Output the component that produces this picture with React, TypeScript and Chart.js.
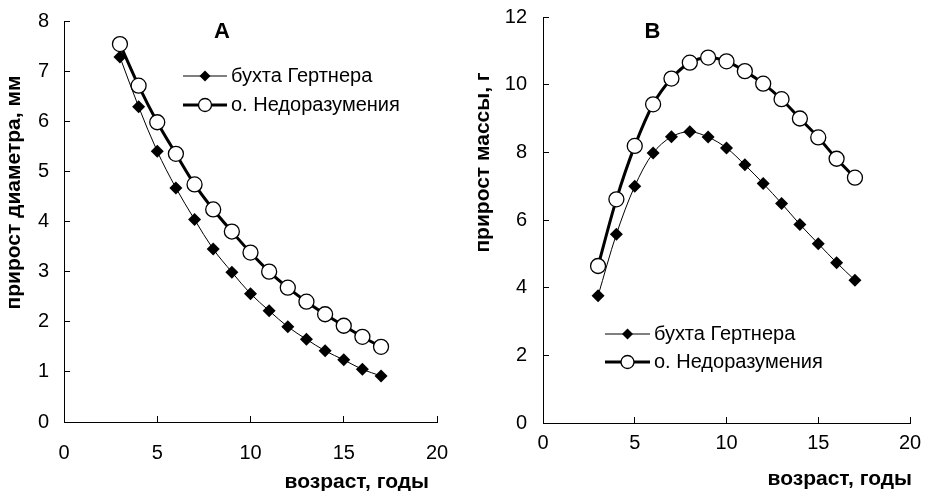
import React, { useEffect, useRef } from 'react';
import { Chart, registerables } from 'chart.js';

Chart.register(...registerables);

// ---------- data ----------
const ages = [3, 4, 5, 6, 7, 8, 9, 10, 11, 12, 13, 14, 15, 16, 17];
const seriesNames = ['бухта Гертнера', 'о. Недоразумения'];

const diameterGertner = [7.28, 6.29, 5.4, 4.67, 4.04, 3.45, 2.99, 2.56, 2.22, 1.9, 1.65, 1.42, 1.24, 1.05, 0.92];
const diameterNedoraz = [7.54, 6.71, 5.98, 5.35, 4.74, 4.24, 3.8, 3.38, 3.0, 2.68, 2.4, 2.15, 1.92, 1.7, 1.5];

const massGertner = [3.76, 5.58, 7.0, 7.98, 8.46, 8.61, 8.45, 8.13, 7.63, 7.08, 6.49, 5.87, 5.3, 4.74, 4.22];
const massNedoraz = [4.64, 6.61, 8.19, 9.42, 10.18, 10.65, 10.8, 10.69, 10.4, 10.03, 9.57, 9.0, 8.44, 7.81, 7.25];

const xTicks = [0, 5, 10, 15, 20];
const diameterTicks = [0, 1, 2, 3, 4, 5, 6, 7, 8];
const massTicks = [0, 2, 4, 6, 8, 10, 12];

const panelLetters = ['A', 'B'];
const yTitles = ['прирост диаметра, мм', 'прирост массы, г'];
const xTitle = 'возраст, годы';

// ---------- helpers ----------
const FONT = '"Liberation Sans", Arial, Helvetica, sans-serif';

const toPoints = (ys: number[]) => ages.map((x, i) => ({ x, y: ys[i] }));

const panelDecor = {
  id: 'panelDecor',
  afterDraw(chart: any, _args: any, opts: any) {
    const ctx = chart.ctx as CanvasRenderingContext2D;
    ctx.save();
    ctx.fillStyle = '#000';

    // panel letter
    ctx.font = `bold 22px ${FONT}`;
    ctx.textAlign = 'center';
    ctx.textBaseline = 'middle';
    ctx.fillText(opts.letter.text, opts.letter.x, opts.letter.y);

    // y title
    ctx.save();
    ctx.translate(opts.yTitle.x, opts.yTitle.y);
    ctx.rotate(-Math.PI / 2);
    ctx.font = `bold 21px ${FONT}`;
    ctx.textAlign = 'center';
    ctx.textBaseline = 'alphabetic';
    ctx.fillText(opts.yTitle.text, 0, 0);
    ctx.restore();

    // x title
    ctx.font = `bold 21px ${FONT}`;
    ctx.textAlign = 'right';
    ctx.textBaseline = 'alphabetic';
    ctx.fillText(opts.xTitle.text, opts.xTitle.right, opts.xTitle.y);

    // legend
    const lg = opts.legend;
    chart.data.datasets.forEach((ds: any, i: number) => {
      const y = lg.y + i * lg.gap;
      ctx.strokeStyle = ds.borderColor;
      ctx.lineWidth = ds.borderWidth;
      ctx.beginPath();
      ctx.moveTo(lg.x, y);
      ctx.lineTo(lg.x + lg.w, y);
      ctx.stroke();
      const cx = lg.x + lg.w / 2;
      if (ds.pointStyle === 'rectRot') {
        const r = 5.5;
        ctx.fillStyle = ds.pointBackgroundColor;
        ctx.beginPath();
        ctx.moveTo(cx - r, y);
        ctx.lineTo(cx, y - r);
        ctx.lineTo(cx + r, y);
        ctx.lineTo(cx, y + r);
        ctx.closePath();
        ctx.fill();
      } else {
        const r = 6.5;
        ctx.fillStyle = ds.pointBackgroundColor;
        ctx.strokeStyle = ds.pointBorderColor;
        ctx.lineWidth = ds.pointBorderWidth;
        ctx.beginPath();
        ctx.arc(cx, y, r, 0, Math.PI * 2);
        ctx.fill();
        ctx.stroke();
      }
      ctx.fillStyle = '#000';
      ctx.font = `20px ${FONT}`;
      ctx.textAlign = 'left';
      ctx.textBaseline = 'middle';
      ctx.fillText(ds.label, lg.x + lg.w + lg.textGap, y);
    });

    ctx.restore();
  },
};

type PanelProps = {
  left: number;
  series: number[][];
  yTicks: number[];
  yAxisWidth: number;
  xAxisHeight: number;
  xLabelPad: number;
  yLabelPad: number;
  padding: { top: number; right: number };
  decor: any;
};

const W = 463;
const H = 491;

const clearScalePadding = (scale: any) => {
  scale.paddingLeft = 0;
  scale.paddingRight = 0;
  scale.paddingTop = 0;
  scale.paddingBottom = 0;
};

function Panel(props: PanelProps) {
  const ref = useRef<HTMLCanvasElement | null>(null);

  useEffect(() => {
    if (!ref.current) return;
    const [g, n] = props.series;
    const chart = new Chart(ref.current, {
      type: 'line',
      data: {
        datasets: [
          {
            label: seriesNames[0],
            data: toPoints(g),
            borderColor: '#000',
            borderWidth: 1,
            pointStyle: 'rectRot',
            pointRadius: 6.5,
            pointBackgroundColor: '#000',
            pointBorderColor: '#000',
            pointBorderWidth: 0,
            tension: 0.33,
            fill: false,
            order: 1,
          } as any,
          {
            label: seriesNames[1],
            data: toPoints(n),
            borderColor: '#000',
            borderWidth: 3,
            pointStyle: 'circle',
            pointRadius: 7.5,
            pointBackgroundColor: '#fff',
            pointBorderColor: '#000',
            pointBorderWidth: 1.3,
            tension: 0.33,
            fill: false,
            order: 0,
          } as any,
        ],
      },
      options: {
        responsive: false,
        animation: false,
        devicePixelRatio: 1,
        clip: false as any,
        layout: { padding: { left: 0, top: props.padding.top, right: props.padding.right, bottom: 0 } },
        plugins: {
          legend: { display: false },
          tooltip: { enabled: false },
          panelDecor: props.decor,
        } as any,
        scales: {
          x: {
            type: 'linear',
            min: xTicks[0],
            max: xTicks[xTicks.length - 1],
            afterBuildTicks: (scale: any) => {
              scale.ticks = xTicks.map((v) => ({ value: v }));
            },
            afterFit: (scale: any) => {
              scale.height = props.xAxisHeight;
              clearScalePadding(scale);
            },
            ticks: {
              color: '#000',
              font: { family: FONT, size: 20 },
              padding: props.xLabelPad,
              maxRotation: 0,
            },
            grid: {
              drawOnChartArea: false,
              drawTicks: true,
              tickLength: -6,
              color: '#000',
              lineWidth: 1,
            },
            border: { display: true, color: '#000', width: 1 },
          },
          y: {
            type: 'linear',
            min: props.yTicks[0],
            max: props.yTicks[props.yTicks.length - 1],
            afterBuildTicks: (scale: any) => {
              scale.ticks = props.yTicks.map((v) => ({ value: v }));
            },
            afterFit: (scale: any) => {
              scale.width = props.yAxisWidth;
              clearScalePadding(scale);
            },
            ticks: {
              color: '#000',
              font: { family: FONT, size: 20 },
              padding: props.yLabelPad,
            },
            grid: {
              drawOnChartArea: false,
              drawTicks: true,
              tickLength: -6,
              color: '#000',
              lineWidth: 1,
            },
            border: { display: true, color: '#000', width: 1 },
          },
        },
      } as any,
      plugins: [panelDecor as any],
    });
    return () => chart.destroy();
  }, []);

  return (
    <canvas
      ref={ref}
      width={W}
      height={H}
      style={{ position: 'absolute', left: props.left, top: 0, width: W, height: H, display: 'block' }}
    />
  );
}

export default function App() {
  return (
    <div style={{ position: 'fixed', left: 0, top: 0, width: 926, height: 491, background: '#fff', overflow: 'hidden' }}>
      <Panel
        left={0}
        series={[diameterGertner, diameterNedoraz]}
        yTicks={diameterTicks}
        yAxisWidth={64}
        xAxisHeight={69}
        xLabelPad={25}
        yLabelPad={21}
        padding={{ top: 21, right: 26 }}
        decor={{
          letter: { text: panelLetters[0], x: 222, y: 32 },
          yTitle: { text: yTitles[0], x: 19.5, y: 192.5 },
          xTitle: { text: xTitle, right: 429, y: 488 },
          legend: { x: 183, y: 76, gap: 29, w: 44, textGap: 4 },
        }}
      />
      <Panel
        left={463}
        series={[massGertner, massNedoraz]}
        yTicks={massTicks}
        yAxisWidth={80}
        xAxisHeight={68}
        xLabelPad={14}
        yLabelPad={22}
        padding={{ top: 17, right: 16 }}
        decor={{
          letter: { text: panelLetters[1], x: 189.5, y: 32 },
          yTitle: { text: yTitles[1], x: 26, y: 162.5 },
          xTitle: { text: xTitle, right: 449, y: 485 },
          legend: { x: 142, y: 334, gap: 28, w: 45, textGap: 4 },
        }}
      />
    </div>
  );
}
